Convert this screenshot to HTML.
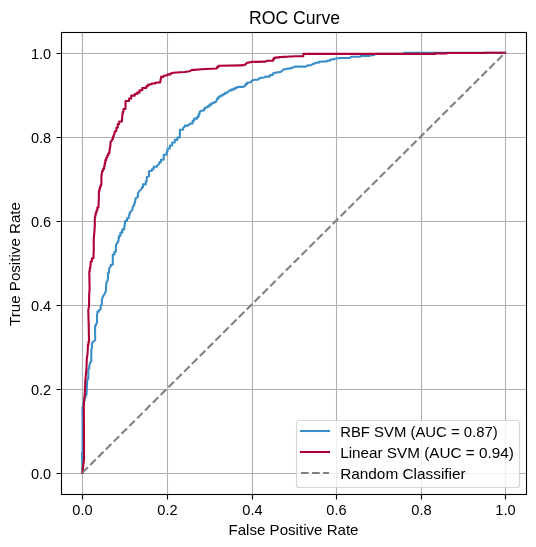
<!DOCTYPE html>
<html><head><meta charset="utf-8"><style>html,body{margin:0;padding:0;background:#fff;width:536px;height:547px;overflow:hidden}svg{display:block;will-change:transform}</style></head><body>
<svg width="536" height="547" viewBox="0 0 536 547" font-family="Liberation Sans, sans-serif" fill="#000">
<rect width="536" height="547" fill="#fff"/>
<path d="M82.5 32V494.5M167.5 32V494.5M252.5 32V494.5M336.5 32V494.5M421.5 32V494.5M505.5 32V494.5M61.5 53.5H526.5M61.5 137.5H526.5M61.5 221.5H526.5M61.5 305.5H526.5M61.5 389.5H526.5M61.5 473.5H526.5" stroke="#b0b0b0" stroke-width="1.111" fill="none"/>
<path d="M82.5 494V499.5M167.5 494V499.5M252.5 494V499.5M336.5 494V499.5M421.5 494V499.5M505.5 494V499.5M56.5 53.5H61M56.5 137.5H61M56.5 221.5H61M56.5 305.5H61M56.5 389.5H61M56.5 473.5H61" stroke="#000" stroke-width="1.111" fill="none"/>
<polyline points="82.41,472.72 82.10,452.20 82.60,451.80 82.60,420.00 82.50,409.00 82.50,407.80 82.93,407.80 82.93,405.40 83.37,405.40 83.37,403.00 83.80,403.00 83.80,401.80 83.80,400.32 84.73,400.32 84.73,397.35 85.67,397.35 85.67,394.38 86.60,394.38 86.60,392.90 87.20,380.20 88.30,378.70 88.30,369.70 89.30,368.20 89.30,366.00 90.10,362.80 91.30,361.30 91.30,349.40 92.00,347.90 92.00,343.10 93.70,341.20 95.20,340.40 95.10,330.00 95.00,327.30 95.00,325.80 95.90,325.80 95.90,324.30 97.00,322.80 97.00,315.40 97.40,313.10 97.40,311.60 98.90,311.60 98.90,310.10 100.70,309.40 100.70,305.70 101.90,304.20 101.90,299.70 102.60,297.50 103.70,295.20 105.20,293.00 106.00,290.00 106.10,285.70 106.60,282.00 107.80,280.10 108.00,274.50 108.00,273.10 108.90,273.10 108.90,271.70 109.40,268.00 110.80,266.10 110.80,264.70 112.80,264.70 112.80,263.30 112.80,255.90 112.80,254.50 114.50,254.50 114.50,253.10 114.50,251.70 115.90,251.70 115.90,250.30 115.90,245.60 116.30,244.30 118.10,242.00 118.10,240.82 118.55,240.82 118.55,238.47 119.00,238.47 119.00,237.30 119.00,235.90 120.40,235.90 120.40,234.50 120.40,232.65 122.30,232.65 122.30,230.80 122.30,229.40 124.20,229.40 124.20,228.00 124.20,226.60 124.65,226.60 124.65,223.80 125.10,223.80 125.10,222.40 125.10,221.00 127.00,221.00 127.00,219.60 127.00,218.20 128.80,218.20 128.80,216.80 128.80,215.62 129.50,215.62 129.50,213.27 130.20,213.27 130.20,212.10 132.30,210.00 132.90,206.50 134.00,205.40 134.00,204.43 134.55,204.43 134.55,202.48 135.10,202.48 135.10,201.50 135.70,198.20 137.90,197.00 137.90,193.10 139.60,190.90 141.80,188.60 141.80,187.20 143.00,187.20 143.00,185.80 143.00,184.40 145.80,184.40 145.80,183.00 145.80,181.35 146.70,181.35 146.70,179.70 146.90,176.90 148.90,176.30 148.90,171.30 151.90,170.70 151.90,169.30 153.60,169.30 153.60,167.90 153.60,166.80 157.00,166.80 157.00,165.70 159.20,164.00 159.20,162.30 160.90,162.30 160.90,160.60 160.90,159.80 163.70,159.80 163.70,159.00 163.70,155.60 163.70,154.75 166.50,154.75 166.50,153.90 166.50,152.93 167.05,152.93 167.05,150.98 167.60,150.98 167.60,150.00 167.60,148.53 169.90,148.53 169.90,145.57 172.20,145.57 172.20,144.10 172.20,142.55 174.80,142.55 174.80,141.00 174.80,139.85 177.35,139.85 177.35,137.55 179.90,137.55 179.90,136.40 179.90,131.30 179.90,129.75 183.00,129.75 183.00,128.20 185.00,126.20 185.00,125.65 188.10,125.65 188.10,125.10 190.00,124.30 190.00,123.50 192.60,123.50 192.60,122.70 192.60,120.90 194.10,120.90 194.10,119.10 194.10,118.60 197.20,118.60 197.20,118.10 197.20,116.80 198.70,116.80 198.70,115.50 198.70,113.70 199.70,113.70 199.70,111.90 201.30,110.70 203.90,110.40 203.90,109.10 204.90,109.10 204.90,107.80 207.40,107.30 207.40,106.40 209.45,106.40 209.45,104.60 211.50,104.60 211.50,103.70 211.50,103.20 213.60,103.20 213.60,102.20 215.70,102.20 215.70,101.70 217.20,99.60 217.20,98.35 218.70,98.35 218.70,97.10 218.70,96.57 220.75,96.57 220.75,95.52 222.80,95.52 222.80,95.00 222.80,94.22 225.15,94.22 225.15,92.67 227.50,92.67 227.50,91.90 229.50,90.90 229.50,90.40 231.80,90.40 231.80,89.40 234.10,89.40 234.10,88.90 234.10,88.38 236.15,88.38 236.15,87.32 238.20,87.32 238.20,86.80 243.40,86.90 245.60,85.40 245.60,84.10 247.10,84.10 247.10,82.80 250.40,82.40 251.90,80.70 254.20,79.80 257.90,79.60 260.10,77.90 263.90,77.50 265.40,76.60 269.90,76.60 269.90,75.00 272.80,75.00 272.80,73.40 275.10,72.70 280.80,71.90 282.50,70.50 283.60,69.60 283.60,69.32 286.40,69.32 286.40,68.77 289.20,68.77 289.20,68.50 289.20,68.22 291.15,68.22 291.15,67.67 293.10,67.67 293.10,67.40 294.80,66.50 305.50,66.60 307.60,65.40 311.30,65.20 312.60,64.10 315.10,63.60 315.10,62.70 318.90,62.70 318.90,61.80 326.90,61.40 326.90,60.75 329.80,60.75 329.80,60.10 329.80,59.80 332.10,59.80 332.10,59.20 334.40,59.20 334.40,58.90 334.40,58.67 336.95,58.67 336.95,58.22 339.50,58.22 339.50,58.00 350.10,58.00 350.90,56.80 360.20,56.80 361.00,55.90 369.40,55.90 370.20,55.20 373.60,55.20 376.00,53.90 404.00,53.90 404.00,52.72 505.14,52.72" fill="none" stroke="#3A8EC8" stroke-width="2.083" stroke-linejoin="round" stroke-linecap="square"/>
<polyline points="82.41,472.72 82.41,471.40 82.73,471.40 82.73,468.75 83.05,468.75 83.05,466.11 83.36,466.11 83.36,463.47 83.68,463.47 83.68,460.82 84.00,460.82 84.00,459.50 84.00,440.00 83.90,420.00 83.80,406.00 84.20,399.60 84.90,392.10 85.30,380.90 86.00,373.50 86.50,368.00 86.80,358.40 87.50,354.60 87.90,346.40 87.90,344.90 88.45,344.90 88.45,341.90 89.00,341.90 89.00,340.40 88.80,330.00 88.30,310.10 89.00,306.40 89.20,293.00 89.60,290.00 89.30,272.60 89.30,271.23 89.80,271.23 89.80,268.48 90.30,268.48 90.30,267.10 90.70,263.30 90.70,261.45 91.90,261.45 91.90,259.60 91.90,258.20 93.50,258.20 93.50,256.80 93.80,249.30 93.70,240.10 94.10,235.40 94.80,226.10 94.80,218.70 94.80,217.52 95.25,217.52 95.25,215.17 95.70,215.17 95.70,214.00 95.70,212.82 96.50,212.82 96.50,210.47 97.30,210.47 97.30,209.30 97.30,207.45 98.50,207.45 98.50,205.60 98.80,200.00 98.90,192.20 98.90,191.17 99.40,191.17 99.40,189.12 99.90,189.12 99.90,188.10 99.90,187.07 100.65,187.07 100.65,185.02 101.40,185.02 101.40,184.00 101.40,175.80 102.20,171.70 102.20,170.67 103.20,170.67 103.20,168.62 104.20,168.62 104.20,167.60 104.20,166.05 104.75,166.05 104.75,162.95 105.30,162.95 105.30,161.40 105.30,160.12 106.30,160.12 106.30,157.57 107.30,157.57 107.30,156.30 107.30,155.28 108.35,155.28 108.35,153.22 109.40,153.22 109.40,152.20 109.40,151.00 109.73,151.00 109.73,148.60 110.07,148.60 110.07,146.20 110.40,146.20 110.40,145.00 110.60,141.80 112.20,140.30 112.20,139.03 112.95,139.03 112.95,136.47 113.70,136.47 113.70,135.20 114.70,133.10 114.70,131.30 116.30,131.30 116.30,129.50 116.30,127.70 117.80,127.70 117.80,125.90 117.80,124.10 119.20,124.10 119.20,122.30 119.20,121.55 121.90,121.55 121.90,120.80 122.40,114.60 122.40,113.57 122.95,113.57 122.95,111.52 123.50,111.52 123.50,110.50 123.50,108.95 125.50,108.95 125.50,107.40 125.50,101.80 125.50,101.05 129.10,101.05 129.10,100.30 129.10,98.50 131.20,98.50 131.20,96.70 131.20,95.65 134.80,95.65 134.80,94.60 134.80,93.95 137.15,93.95 137.15,92.65 139.50,92.65 139.50,92.00 139.50,90.30 142.30,90.30 142.30,88.60 142.30,88.05 146.20,88.05 146.20,87.50 146.20,86.25 147.90,86.25 147.90,85.00 147.90,84.78 149.85,84.78 149.85,84.33 151.80,84.33 151.80,84.10 151.80,83.45 155.20,83.45 155.20,82.80 160.20,82.40 160.20,81.30 160.60,81.30 160.60,79.10 161.00,79.10 161.00,78.00 161.00,76.85 163.60,76.85 163.60,75.70 167.50,75.20 167.50,74.35 170.80,74.35 170.80,73.50 173.10,72.70 184.30,72.00 189.90,71.20 191.50,70.10 201.20,69.30 216.90,68.50 216.90,67.10 218.60,67.10 218.60,65.70 241.50,65.40 241.50,65.20 243.45,65.20 243.45,64.80 245.40,64.80 245.40,64.60 246.70,63.00 246.70,62.73 248.95,62.73 248.95,62.17 251.20,62.17 251.20,61.90 265.40,61.60 267.60,60.70 273.00,60.70 273.00,59.30 274.10,59.30 274.10,57.90 280.20,57.10 280.20,57.02 282.82,57.02 282.82,56.88 285.43,56.88 285.43,56.73 288.05,56.73 288.05,56.58 290.67,56.58 290.67,56.43 293.28,56.43 293.28,56.28 295.90,56.28 295.90,56.20 303.20,56.30 303.40,53.90 435.00,53.90 435.00,53.35 447.00,53.35 447.00,52.95 485.00,52.95 485.00,52.72 505.14,52.72" fill="none" stroke="#AE0036" stroke-width="2.083" stroke-linejoin="round" stroke-linecap="square"/>
<line x1="82.41" y1="472.72" x2="505.14" y2="52.72" stroke="#808080" stroke-width="2.083" stroke-dasharray="7.7 3.33"/>
<rect x="61.5" y="32.5" width="465" height="462" fill="none" stroke="#000" stroke-width="1.111"/>
<rect x="296.5" y="420.5" width="223" height="67" rx="2.78" fill="#fff" fill-opacity="0.8" stroke="#ccc" stroke-opacity="0.8" stroke-width="1.111"/>
<path d="M301 431H329" stroke="#3A8EC8" stroke-width="2.083" stroke-linecap="square"/>
<path d="M301 452H329" stroke="#AE0036" stroke-width="2.083" stroke-linecap="square"/>
<path d="M301 473H329" stroke="#808080" stroke-width="2.083" stroke-dasharray="7.7 3.33"/>
<text x="72.35" y="515.00" font-size="14.5" textLength="20.30" lengthAdjust="spacingAndGlyphs">0.0</text>
<text x="157.35" y="515.00" font-size="14.5" textLength="20.30" lengthAdjust="spacingAndGlyphs">0.2</text>
<text x="242.35" y="515.00" font-size="14.5" textLength="20.30" lengthAdjust="spacingAndGlyphs">0.4</text>
<text x="326.35" y="515.00" font-size="14.5" textLength="20.30" lengthAdjust="spacingAndGlyphs">0.6</text>
<text x="411.35" y="515.00" font-size="14.5" textLength="20.30" lengthAdjust="spacingAndGlyphs">0.8</text>
<text x="495.35" y="515.00" font-size="14.5" textLength="20.30" lengthAdjust="spacingAndGlyphs">1.0</text>
<text x="30.90" y="59.00" font-size="14.5" textLength="20.30" lengthAdjust="spacingAndGlyphs">1.0</text>
<text x="30.90" y="143.00" font-size="14.5" textLength="20.30" lengthAdjust="spacingAndGlyphs">0.8</text>
<text x="30.90" y="227.00" font-size="14.5" textLength="20.30" lengthAdjust="spacingAndGlyphs">0.6</text>
<text x="30.90" y="311.00" font-size="14.5" textLength="20.30" lengthAdjust="spacingAndGlyphs">0.4</text>
<text x="30.90" y="395.00" font-size="14.5" textLength="20.30" lengthAdjust="spacingAndGlyphs">0.2</text>
<text x="30.90" y="479.00" font-size="14.5" textLength="20.30" lengthAdjust="spacingAndGlyphs">0.0</text>
<text x="249.00" y="24.00" font-size="17.5" textLength="91.02" lengthAdjust="spacingAndGlyphs">ROC Curve</text>
<text x="228.50" y="535.00" font-size="14.14" textLength="130.02" lengthAdjust="spacingAndGlyphs">False Positive Rate</text>
<text transform="translate(20.00,326.00) rotate(-90)" x="0" y="0" font-size="14.14" textLength="124.00" lengthAdjust="spacingAndGlyphs">True Positive Rate</text>
<text x="340.15" y="437.30" font-size="13.9" textLength="157.60" lengthAdjust="spacingAndGlyphs">RBF SVM (AUC = 0.87)</text>
<text x="340.15" y="458.25" font-size="13.9" textLength="173.60" lengthAdjust="spacingAndGlyphs">Linear SVM (AUC = 0.94)</text>
<text x="340.15" y="479.20" font-size="13.9" textLength="125.52" lengthAdjust="spacingAndGlyphs">Random Classifier</text>
</svg>
</body></html>
